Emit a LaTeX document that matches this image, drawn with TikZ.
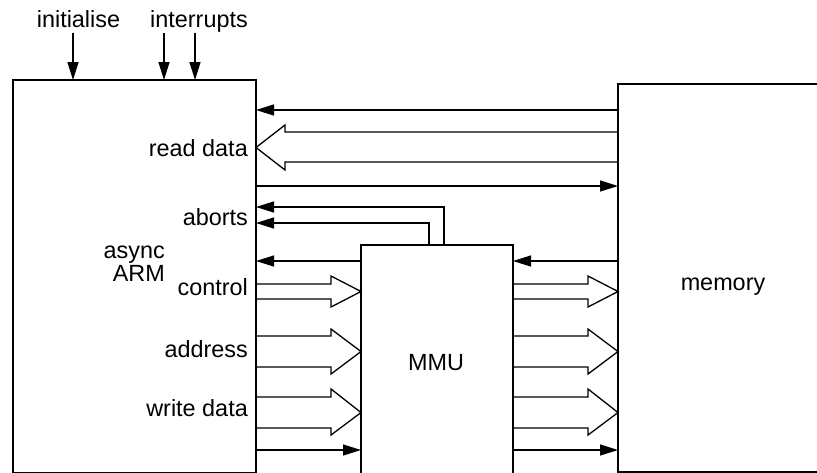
\documentclass[tikz,border=0pt]{standalone}
\usepackage{fontspec}
\setmainfont{Liberation Sans}
\usetikzlibrary{arrows.meta}
\begin{document}
\begin{tikzpicture}[x=1pt,y=-1pt,
  box/.style={draw, line width=2.7pt, inner sep=0pt, outer sep=0pt, anchor=north west},
  wire/.style={line width=1.3pt},
  fa/.style={wire, -{Triangle[length=18pt,width=11pt]}},
  hol/.style={wire, line join=miter},
  lbl/.style={font=\fontsize{23.4pt}{28pt}\selectfont, inner sep=0pt, anchor=base east}]
\useasboundingbox (0,0) rectangle (817,472);
\node[box, minimum width=243pt, minimum height=393pt] (arm) at (13,80) {};
\node[box, minimum width=240pt, minimum height=388pt] (mem) at (618,84) {};
\node[box, minimum width=152pt, minimum height=230pt] (mmu) at (361,245) {};
% coordinates
\coordinate (i1) at (73,33);
\coordinate (i2) at (164,33);
\coordinate (i3) at (195,33);
\coordinate (ab1) at (444,207);
\coordinate (ab2) at (429,223);
% top inputs
\draw[fa] (i1) -- (arm.north -| i1);
\draw[fa] (i2) -- (arm.north -| i2);
\draw[fa] (i3) -- (arm.north -| i3);
% memory <-> ARM
\draw[fa] (mem.west |- 0,110) -- (arm.east |- 0,110);
\draw[hol] (mem.west |- 0,132) -- (285,132) -- (285,125) -- (arm.east |- 0,147.5) -- (285,170) -- (285,162) -- (mem.west |- 0,162);
\draw[fa] (arm.east |- 0,186) -- (mem.west |- 0,186);
% aborts
\draw[fa] (mmu.north -| ab1) -- (ab1) -- (arm.east |- ab1);
\draw[fa] (mmu.north -| ab2) -- (ab2) -- (arm.east |- ab2);
\draw[fa] (mmu.west |- 0,261) -- (arm.east |- 0,261);
\draw[fa] (mem.west |- 0,261) -- (mmu.east |- 0,261);
% ARM -> MMU hollow
\draw[hol] (arm.east |- 0,284) -- (331,284) -- (331,276) -- (mmu.west |- 0,291.5) -- (331,307) -- (331,299) -- (arm.east |- 0,299);
\draw[hol] (arm.east |- 0,336) -- (331,336) -- (331,329) -- (mmu.west |- 0,351.5) -- (331,374) -- (331,367) -- (arm.east |- 0,367);
\draw[hol] (arm.east |- 0,397) -- (331,397) -- (331,389) -- (mmu.west |- 0,412.5) -- (331,435) -- (331,428) -- (arm.east |- 0,428);
% MMU -> memory hollow
\draw[hol] (mmu.east |- 0,284) -- (588,284) -- (588,276) -- (mem.west |- 0,291.5) -- (588,307) -- (588,299) -- (mmu.east |- 0,299);
\draw[hol] (mmu.east |- 0,336) -- (588,336) -- (588,329) -- (mem.west |- 0,351.5) -- (588,374) -- (588,367) -- (mmu.east |- 0,367);
\draw[hol] (mmu.east |- 0,397) -- (588,397) -- (588,389) -- (mem.west |- 0,412.5) -- (588,435) -- (588,428) -- (mmu.east |- 0,428);
% bottom filled
\draw[fa] (arm.east |- 0,450) -- (mmu.west |- 0,450);
\draw[fa] (mmu.east |- 0,450) -- (mem.west |- 0,450);
% labels
\node[lbl, anchor=base] (tinit) at (78.5,27) {initialise};
\node[lbl, anchor=base] (tint) at (199,27) {interrupts};
\node[lbl] (trd) at (248,156) {read data};
\node[lbl] (tab) at (248,225) {aborts};
\node[lbl] (tasync) at (165,258) {async};
\node[lbl] (tarm) at (165,281) {ARM};
\node[lbl] (tctl) at (248,295) {control};
\node[lbl] (tadr) at (248,357) {address};
\node[lbl] (twd) at (248,416) {write data};
\node[lbl, anchor=base] (tmmu) at (436,370) {MMU};
\node[lbl, anchor=base] (tmem) at (723,290) {memory};
\end{tikzpicture}
\end{document}
